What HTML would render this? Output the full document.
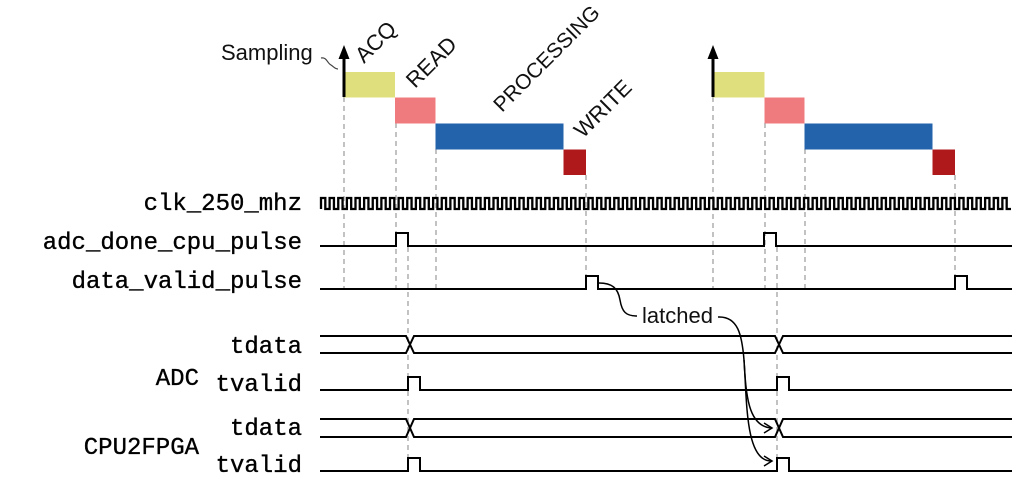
<!DOCTYPE html>
<html><head><meta charset="utf-8"><style>
html,body{margin:0;padding:0;background:#fff;}
svg{display:block;}
.m{font-family:"Liberation Mono","DejaVu Sans Mono",monospace;font-size:24px;fill:#000;stroke:#000;stroke-width:0.35px;}
.s{font-family:"Liberation Sans",sans-serif;font-size:22px;fill:#111;}
</style></head><body>
<svg width="1024" height="483" viewBox="0 0 1024 483" xmlns="http://www.w3.org/2000/svg">
<rect width="1024" height="483" fill="#fff"/>
<!-- dashed guides -->
<g stroke="#b4b4b4" stroke-width="1.6" stroke-dasharray="5,4" fill="none">
<line x1="344" y1="97" x2="344" y2="290"/>
<line x1="396" y1="123" x2="396" y2="290"/>
<line x1="408" y1="247" x2="408" y2="470"/>
<line x1="436" y1="149" x2="436" y2="290"/>
<line x1="586" y1="175" x2="586" y2="280"/>
<line x1="713" y1="97" x2="713" y2="290"/>
<line x1="765" y1="123" x2="765" y2="290"/>
<line x1="777" y1="247" x2="777" y2="470"/>
<line x1="805" y1="149" x2="805" y2="290"/>
<line x1="955" y1="175" x2="955" y2="280"/>
</g>
<!-- blocks group 1 -->
<rect x="344" y="72" width="51" height="25.5" fill="#e0df7e"/>
<rect x="395" y="97.5" width="40.5" height="26" fill="#f07b7f"/>
<rect x="435.5" y="123.5" width="128" height="26" fill="#2263ab"/>
<rect x="563.5" y="149.5" width="22.5" height="25.5" fill="#b0191b"/>
<!-- blocks group 2 -->
<rect x="713" y="72" width="51.5" height="25.5" fill="#e0df7e"/>
<rect x="764.5" y="97.5" width="40" height="26" fill="#f07b7f"/>
<rect x="804.5" y="123.5" width="128" height="26" fill="#2263ab"/>
<rect x="932.5" y="149.5" width="22.5" height="25.5" fill="#b0191b"/>
<!-- arrows -->
<line x1="344" y1="97" x2="344" y2="56" stroke="#000" stroke-width="3"/>
<polygon points="344,45 338.5,59 349.5,59" fill="#000"/>
<line x1="713" y1="97" x2="713" y2="56" stroke="#000" stroke-width="3"/>
<polygon points="713,45 707.5,59 718.5,59" fill="#000"/>
<!-- labels top -->
<text class="s" x="221" y="60">Sampling</text>
<path d="M321,58 C327,57 327,63 331,65 C334,67 335,69 338,69" stroke="#444" stroke-width="1.2" fill="none"/>
<text class="s" transform="translate(364,64) rotate(-45)">ACQ</text>
<text class="s" transform="translate(415,89) rotate(-45)">READ</text>
<text class="s" style="font-size:21px" transform="translate(502,113) rotate(-45)">PROCESSING</text>
<text class="s" transform="translate(583,139) rotate(-45)">WRITE</text>
<!-- signal labels -->
<g class="m" text-anchor="end">
<text x="302" y="210">clk_250_mhz</text>
<text x="302" y="249">adc_done_cpu_pulse</text>
<text x="302" y="288">data_valid_pulse</text>
<text x="302" y="353">tdata</text>
<text x="302" y="391">tvalid</text>
<text x="302" y="435">tdata</text>
<text x="302" y="472">tvalid</text>
<text x="199" y="385">ADC</text>
<text x="199" y="454">CPU2FPGA</text>
</g>
<!-- waveforms -->
<g stroke="#000" stroke-width="2" fill="none" stroke-linejoin="miter">
<path stroke-width="2.3" d="M321,209 v-11h4.3125v11h4.3125v-11h4.3125v11h4.3125v-11h4.3125v11h4.3125v-11h4.3125v11h4.3125v-11h4.3125v11h4.3125v-11h4.3125v11h4.3125v-11h4.3125v11h4.3125v-11h4.3125v11h4.3125
v-11h4.3125v11h4.3125v-11h4.3125v11h4.3125v-11h4.3125v11h4.3125v-11h4.3125v11h4.3125v-11h4.3125v11h4.3125v-11h4.3125v11h4.3125v-11h4.3125v11h4.3125v-11h4.3125v11h4.3125
v-11h4.3125v11h4.3125v-11h4.3125v11h4.3125v-11h4.3125v11h4.3125v-11h4.3125v11h4.3125v-11h4.3125v11h4.3125v-11h4.3125v11h4.3125v-11h4.3125v11h4.3125v-11h4.3125v11h4.3125
v-11h4.3125v11h4.3125v-11h4.3125v11h4.3125v-11h4.3125v11h4.3125v-11h4.3125v11h4.3125v-11h4.3125v11h4.3125v-11h4.3125v11h4.3125v-11h4.3125v11h4.3125v-11h4.3125v11h4.3125
v-11h4.3125v11h4.3125v-11h4.3125v11h4.3125v-11h4.3125v11h4.3125v-11h4.3125v11h4.3125v-11h4.3125v11h4.3125v-11h4.3125v11h4.3125v-11h4.3125v11h4.3125v-11h4.3125v11h4.3125
v-11h4.3125v11h4.3125v-11h4.3125v11h4.3125v-11h4.3125v11h4.3125v-11h4.3125v11h4.3125v-11h4.3125v11h4.3125v-11h4.3125v11h4.3125v-11h4.3125v11h4.3125v-11h4.3125v11h4.3125
v-11h4.3125v11h4.3125v-11h4.3125v11h4.3125v-11h4.3125v11h4.3125v-11h4.3125v11h4.3125v-11h4.3125v11h4.3125v-11h4.3125v11h4.3125v-11h4.3125v11h4.3125v-11h4.3125v11h4.3125
v-11h4.3125v11h4.3125v-11h4.3125v11h4.3125v-11h4.3125v11h4.3125v-11h4.3125v11h4.3125v-11h4.3125v11h4.3125v-11h4.3125v11h4.3125v-11h4.3125v11h4.3125v-11h4.3125v11h4.3125
v-11h4.3125v11h4.3125v-11h4.3125v11h4.3125v-11h4.3125v11h4.3125v-11h4.3125v11h4.3125v-11h4.3125v11h4.3125v-11h4.3125v11h4.3125v-11h4.3125v11h4.3125v-11h4.3125v11h4.3125
v-11h4.3125v11h4.3125v-11h4.3125v11h4.3125v-11h4.3125v11h4.3125v-11h4.3125v11h4.3125v-11h4.3125v11h4.3125v-11h4.3125v11h4.3125v-11h4.3125v11h4.3125v-11h4.3125v11h4.3125"/>
<path d="M320,246 H396 V233 H408 V246 H764 V233 H776 V246 H1012"/>
<path d="M320,289 H586 V276 H598 V289 H955 V276 H967 V289 H1012"/>
<path d="M320,336 H406 L410,344.5 L414,353 H775 L779,344.5 L783,336 H1012"/>
<path d="M320,353 H406 L410,344.5 L414,336 H775 L779,344.5 L783,353 H1012"/>
<path d="M320,390 H408 V377 H420 V390 H777 V377 H789 V390 H1012"/>
<path d="M320,419 H406 L410,428 L414,437 H775 L779,428 L783,419 H1012"/>
<path d="M320,437 H406 L410,428 L414,419 H775 L779,428 L783,437 H1012"/>
<path d="M320,471 H408 V458 H420 V471 H777 V458 H789 V471 H1012"/>
</g>
<!-- latched -->
<text class="s" x="642" y="323">latched</text>
<g stroke="#000" stroke-width="1.5" fill="none">
<path d="M599,283 C612,283 618,288 620,300 C622,312 626,316 637,316"/>
<path d="M718,317 C738,316 742,335 744,360 C746,395 748,426 771,428"/>
<path d="M744,360 C747,400 745,461 771,461"/>
<path d="M764,423 L772,428 L764,433"/>
<path d="M764,456 L772,461 L764,466"/>
</g>
</svg>
</body></html>
